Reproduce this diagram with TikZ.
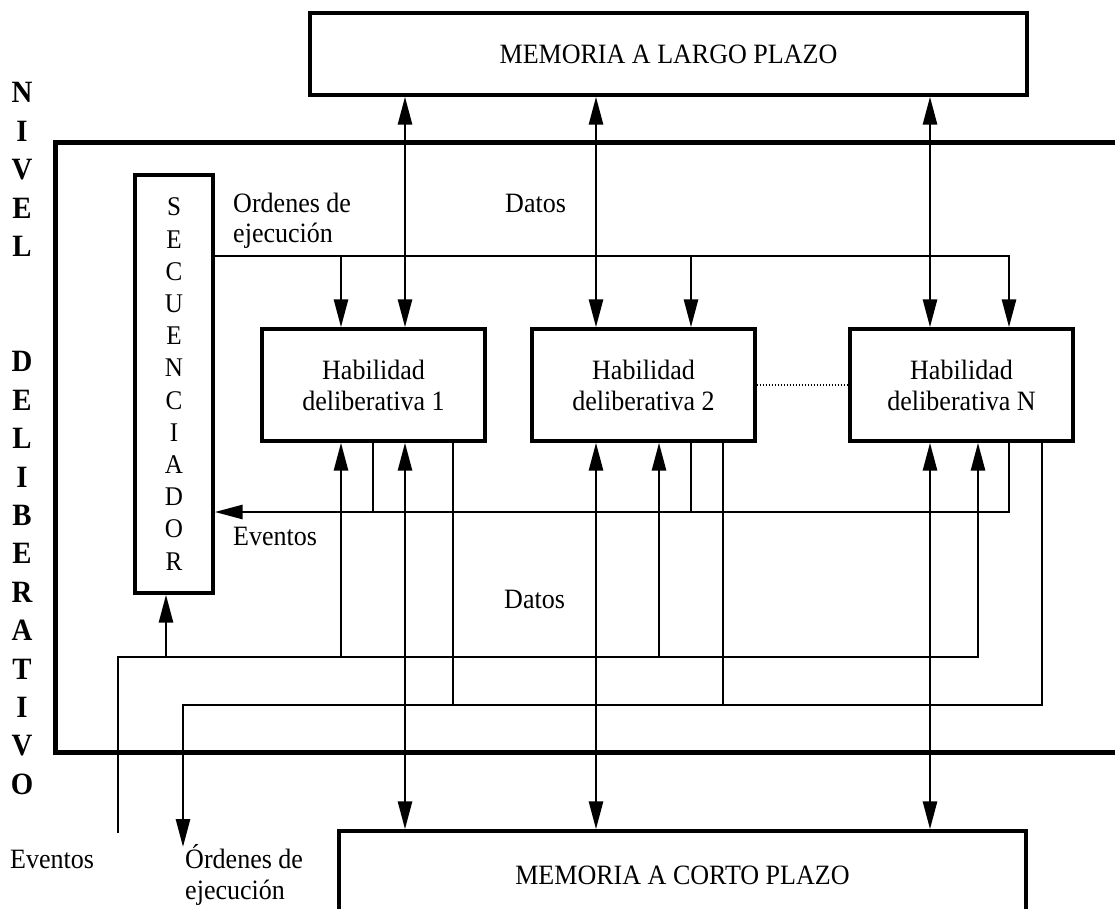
\documentclass[tikz,border=0pt]{standalone}
\usepackage{fontspec}
\setmainfont{Liberation Serif}[FakeStretch=0.93]
\usetikzlibrary{arrows.meta}

\begin{document}
\begin{tikzpicture}[x=1pt,y=-1pt,
  txt/.style={inner sep=0pt, font=\fontsize{28}{30.5}\selectfont},
  box/.style={draw, line width=3.4pt, inner sep=0pt, align=center,
              font=\fontsize{28}{31}\selectfont},
  wire/.style={line width=2.8pt},
  onehead/.style={-{Triangle[length=28pt,width=14pt]}},
  twohead/.style={{Triangle[length=28pt,width=14pt]}-{Triangle[length=28pt,width=14pt]}},
  levelframe/.style={line width=5pt},
  vletter/.style={inner sep=0pt, anchor=base, font=\fontsize{31}{31}\selectfont\bfseries},
]
\useasboundingbox (0,0) rectangle (1115,909);
\clip (0,0) rectangle (1115,909);

% frame of the deliberative level (open to the right)
\coordinate (fTR) at (1125,143);
\coordinate (fBL) at (55,752);
\coordinate (fBR) at (1125,752);
\draw[levelframe] (fTR) -| (fBL) -- (fBR);

% vertical title of the level
\foreach \i/\l in {0/N,1/I,2/V,3/E,4/L,7/D,8/E,9/L,10/I,11/B,12/E,13/R,14/A,15/T,16/I,17/V,18/O}
  \node[vletter] (nv\i) at (22,{103+38.4*\i}) {\l};

% memories
\node[box, minimum width=717pt, minimum height=82pt] (mlp) at (668.5,54) {MEMORIA A LARGO PLAZO};
\node[box, minimum width=687pt, minimum height=88pt] (mcp) at (682.5,875) {MEMORIA A CORTO PLAZO};

% sequencer
\node[box, minimum width=78pt, minimum height=418pt, font=\fontsize{27}{32.2}\selectfont]
  (sec) at (174,384) {S\\E\\C\\U\\E\\N\\C\\I\\A\\D\\O\\R};

% deliberative skills
\node[box, minimum width=223pt, minimum height=112pt] (h1) at (373.5,385) {Habilidad\\deliberativa 1};
\node[box, minimum width=223pt, minimum height=112pt] (h2) at (643.5,385) {Habilidad\\deliberativa 2};
\node[box, minimum width=223pt, minimum height=112pt] (hN) at (961.5,385) {Habilidad\\deliberativa N};
\draw[line width=1.2pt, dash pattern=on 1.5pt off 1.5pt] (h2.east) -- (hN.west);

% columns and bus levels
\coordinate (cA1) at (405,0);  \coordinate (cA2) at (596,0);  \coordinate (cA3) at (930,0);
\coordinate (cO1) at (341,0);  \coordinate (cO2) at (691,0);  \coordinate (cO3) at (1009,0);
\coordinate (cD1) at (341,0);  \coordinate (cD2) at (659,0);  \coordinate (cD3) at (978,0);
\coordinate (cE1) at (373,0);  \coordinate (cE2) at (691,0);  \coordinate (cE3) at (1009,0);
\coordinate (cR1) at (453,0);  \coordinate (cR2) at (723,0);  \coordinate (cR3) at (1042,0);
\coordinate (cS) at (166,0);
\coordinate (yOT) at (0,256);
\coordinate (yEV) at (0,512);
\coordinate (yDB) at (0,657);
\coordinate (yOB) at (0,705);
\coordinate (evin) at (118,833);
\coordinate (ordout) at (183,847);

% data exchange with both memories
\foreach \h/\c in {h1/cA1,h2/cA2,hN/cA3} {
  \draw[wire,twohead] (mlp.south -| \c) -- (\h.north -| \c);
  \draw[wire,twohead] (\h.south -| \c) -- (mcp.north -| \c);
}

% execution orders from the sequencer
\draw[wire,onehead] (sec.east |- yOT) -| (hN.north -| cO3);
\draw[wire,onehead] (cO1 |- yOT) -- (h1.north -| cO1);
\draw[wire,onehead] (cO2 |- yOT) -- (h2.north -| cO2);

% events back to the sequencer
\draw[wire,onehead] (hN.south -| cE3) |- (sec.east |- yEV);
\draw[wire] (h1.south -| cE1) -- (cE1 |- yEV);
\draw[wire] (h2.south -| cE2) -- (cE2 |- yEV);

% incoming events / data bus
\draw[wire,onehead] (evin) |- (cD3 |- yDB) -- (hN.south -| cD3);
\draw[wire,onehead] (cS |- yDB) -- (sec.south -| cS);
\draw[wire,onehead] (cD1 |- yDB) -- (h1.south -| cD1);
\draw[wire,onehead] (cD2 |- yDB) -- (h2.south -| cD2);

% outgoing execution orders
\draw[wire,onehead] (hN.south -| cR3) |- (ordout |- yOB) -- (ordout);
\draw[wire] (h1.south -| cR1) -- (cR1 |- yOB);
\draw[wire] (h2.south -| cR2) -- (cR2 |- yOB);

% labels (base anchor of a two-line label is its last line)
\node[txt, anchor=base west, align=left] (lblOrdIn) at (233,243) {Ordenes de\\ejecución};
\node[txt, anchor=base west] (lblDatosA) at (505,213) {Datos};
\node[txt, anchor=base west] (lblEvIn) at (233,545) {Eventos};
\node[txt, anchor=base west] (lblDatosB) at (504,608) {Datos};
\node[txt, anchor=base west] (lblEvExt) at (10,868) {Eventos};
\node[txt, anchor=base west, align=left] (lblOrdOut) at (185,899) {Órdenes de\\ejecución};
\end{tikzpicture}
\end{document}
